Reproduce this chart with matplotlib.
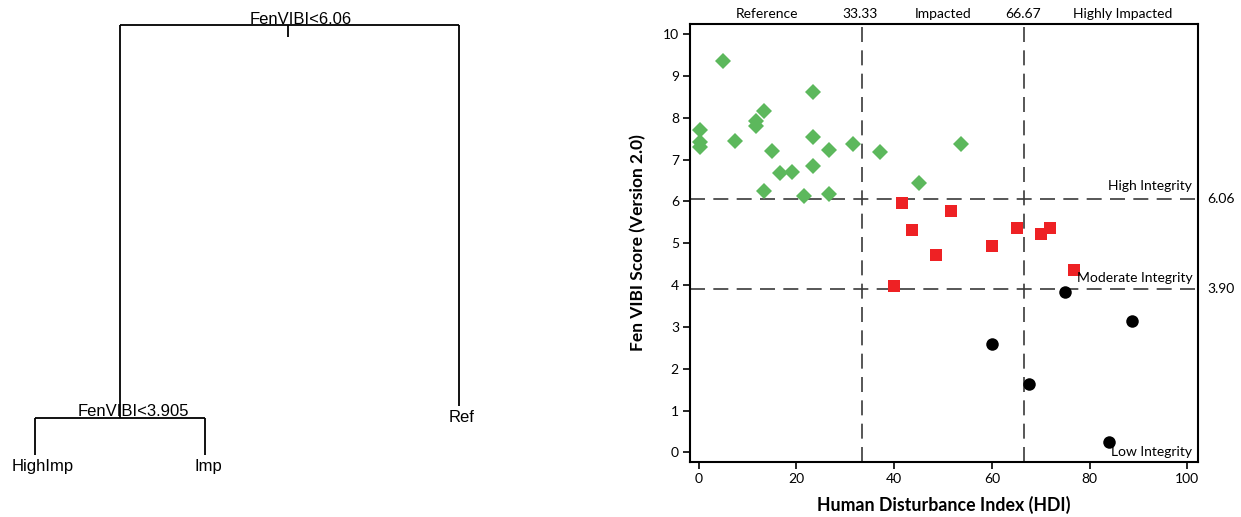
import matplotlib
matplotlib.use("Agg")
import matplotlib.pyplot as plt
from matplotlib.transforms import blended_transform_factory

# ---------------- data ----------------
ref_hdi = [5.0, 0.3, 0.3, 0.3, 7.5, 11.7, 11.7, 13.3, 15.0, 16.7, 19.1, 13.3, 21.5,
           23.3, 23.3, 23.3, 26.7, 26.7, 31.5, 37.0, 45.0, 53.6]
ref_vibi = [9.36, 7.71, 7.41, 7.30, 7.45, 7.93, 7.79, 8.17, 7.20, 6.67, 6.70, 6.25, 6.13,
            8.62, 7.53, 6.85, 7.23, 6.18, 7.37, 7.17, 6.45, 7.37]
imp_hdi = [41.6, 51.6, 43.7, 48.5, 60.0, 65.2, 70.0, 71.9, 76.8, 40.0]
imp_vibi = [5.97, 5.78, 5.32, 4.72, 4.93, 5.36, 5.22, 5.36, 4.36, 3.97]
high_hdi = [75.0, 88.7, 60.1, 67.5, 83.9]
high_vibi = [3.84, 3.13, 2.60, 1.63, 0.25]

hdi_cuts = [33.33, 66.67]
vibi_cuts = [6.06, 3.90]
zone_labels = ["Reference", "Impacted", "Highly Impacted"]
zone_label_x = [13.9, 50.1, 86.7]
integrity_labels = ["High Integrity", "Moderate Integrity", "Low Integrity"]
integrity_label_y = [6.36, 4.16, 0.02]

tree_root = "FenVIBI<6.06"
tree_split = "FenVIBI<3.905"
tree_leaves = ["HighImp", "Imp", "Ref"]

# ---------------- figure ----------------
W, H = 1241, 517
fig = plt.figure(figsize=(W / 100, H / 100), dpi=100)

# ---- left: classification tree (pixel coordinates) ----
axt = fig.add_axes([0, 0, 520 / W, 1])
axt.set_xlim(0, 520)
axt.set_ylim(H, 0)
axt.axis("off")
tree_font = dict(family="Liberation Sans", fontsize=12, color="black")
lw = 1.3
segs = [
    ((120, 459), (25, 25)),   # root bar
    ((288, 288), (25, 37)),   # root tick
    ((120, 120), (25, 418)),  # left branch
    ((459, 459), (25, 406)),  # right branch
    ((35, 205), (418, 418)),  # split bar
    ((35, 35), (418, 455)),
    ((205, 205), (418, 455)),
]
for xs, ys in segs:
    axt.plot(xs, ys, color="black", lw=lw, solid_capstyle="butt")
axt.text(301, 19, tree_root, ha="center", va="center", **tree_font)
axt.text(133, 412, tree_split, ha="center", va="center", **tree_font)
axt.text(43, 467, tree_leaves[0], ha="center", va="center", **tree_font)
axt.text(208, 467, tree_leaves[1], ha="center", va="center", **tree_font)
axt.text(462, 418, tree_leaves[2], ha="center", va="center", **tree_font)

# ---- right: scatter ----
fam = "Lato"
ax = fig.add_axes([690 / W, 1 - 462 / H, 508 / W, 438 / H])
ax.set_xlim(-1.8, 102.2)
ax.set_ylim(-0.23, 10.24)

dash_kw = dict(color="#3a3a3a", lw=1.2, dashes=(9, 5), zorder=1)
for xc in hdi_cuts:
    ax.axvline(xc, **dash_kw)
for yc in vibi_cuts:
    ax.axhline(yc, **dash_kw)

ax.plot(ref_hdi, ref_vibi, ls="none", marker="D", ms=8.5, color="#5cb85c",
        markeredgewidth=0, zorder=3)
ax.plot(imp_hdi, imp_vibi, ls="none", marker="s", ms=8, color="#ee2124",
        markeredgewidth=0, zorder=3)
ax.plot(high_hdi, high_vibi, ls="none", marker="o", ms=9, color="black",
        markeredgewidth=0, zorder=3)

ax.set_xticks(range(0, 101, 20))
ax.set_yticks(range(0, 11))
ax.tick_params(direction="out", length=5, width=1.2, labelsize=10, pad=3)
for lab in ax.get_xticklabels() + ax.get_yticklabels():
    lab.set_family(fam)
for s in ax.spines.values():
    s.set_linewidth(1.5)

ax.set_xlabel("Human Disturbance Index (HDI)", family=fam, fontsize=12.8,
              fontweight="bold", labelpad=8)
ax.set_ylabel("Fen VIBI Score (Version 2.0)", family=fam, fontsize=12.5,
              fontweight="bold", labelpad=12)

top = blended_transform_factory(ax.transData, ax.transAxes)
for x, t in zip(zone_label_x, zone_labels):
    ax.text(x, 1.01, t, transform=top, ha="center", va="bottom", family=fam, fontsize=10)
for xc in hdi_cuts:
    ax.text(xc - 0.3, 1.01, f"{xc:.2f}", transform=top, ha="center", va="bottom",
            family=fam, fontsize=10)

for y, t in zip(integrity_label_y, integrity_labels):
    ax.text(101.0, y, t, ha="right", va="center", family=fam, fontsize=10)

right = blended_transform_factory(ax.transAxes, ax.transData)
for yc in vibi_cuts:
    ax.text(1.018, yc, f"{yc:.2f}", transform=right, ha="left", va="center",
            family=fam, fontsize=10)

fig.savefig("out.png", dpi=100)
